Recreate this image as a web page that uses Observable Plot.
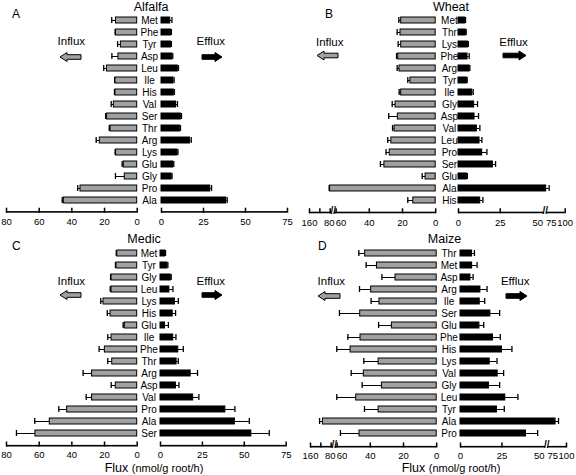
<!DOCTYPE html>
<html><head><meta charset="utf-8">
<script src="https://cdn.jsdelivr.net/npm/d3@7"></script>
<script src="https://cdn.jsdelivr.net/npm/@observablehq/plot@0.6"></script>
<style>
body{margin:0;background:#fff;}
#chart{position:relative;width:576px;height:475px;overflow:hidden;background:#fff;}
</style></head><body><div id="chart"></div>
<script>
// ---------------- data ----------------
const alfalfaAA = ["Met","Phe","Tyr","Asp","Leu","Ile","His","Val","Ser","Thr","Arg","Lys","Glu","Gly","Pro","Ala"];
const alfalfaInflux = [13, 13, 10, 11.5, 18.5, 13.3, 13.3, 14.3, 18.4, 16.3, 22.9, 12.9, 8.2, 7.6, 34.7, 44.9];
const alfalfaInfluxErr = [2.6, 0.5, 2, 4, 2, 0.5, 0.6, 1.6, 0.9, 0.8, 2.2, 0.6, 1, 5.7, 1.7, 1];
const alfalfaEfflux = [5.2, 5.6, 5.6, 6.4, 9.7, 7.1, 7.3, 8.7, 11.5, 10.9, 16.9, 9.5, 7, 6, 29, 38.5];
const alfalfaEffluxErr = [1, 0.3, 0.3, 0.3, 0.4, 0.4, 0.4, 0.8, 0.4, 0.4, 0.8, 0.3, 0.3, 0.3, 0.8, 0.6];

const wheatAA = ["Met","Thr","Lys","Phe","Arg","Tyr","Ile","Gly","Asp","Val","Leu","Pro","Ser","Glu","Ala","His"];
const wheatInflux = [20.8, 21.2, 20.8, 22.6, 21.8, 15.2, 20.8, 24.2, 22.8, 24.8, 26.7, 27.7, 30.9, 6.1, 80.5, 13.5];
const wheatInfluxErr = [1.4, 2, 1.8, 1, 1.4, 1.6, 1.2, 2, 5.5, 1.2, 2.2, 2.2, 2.4, 2, 3.5, 3.3];
const wheatEfflux = [4, 4.4, 5.6, 5.4, 6.6, 5, 8.2, 9.4, 9.6, 11, 12.6, 14.2, 20.6, 5, 59, 13];
const wheatEffluxErr = [0.2, 0.2, 0.3, 1, 0.2, 0.2, 0.6, 2, 2.4, 1.8, 1.4, 2.8, 1.6, 0.3, 6.5, 1.6];

const medicAA = ["Met","Tyr","Gly","Leu","Lys","His","Glu","Ile","Phe","Thr","Arg","Asp","Val","Pro","Ala","Ser"];
const medicInflux = [12.2, 12.7, 15.7, 15.7, 20.6, 16.3, 7.6, 15.7, 19.8, 15.3, 27.6, 13.1, 27.6, 42.9, 53.5, 62.3];
const medicInfluxErr = [0.6, 0.6, 0.6, 0.8, 1.7, 2, 1, 2.3, 3.5, 2.7, 5.5, 2.8, 3.6, 5.1, 9.2, 11.6];
const medicEfflux = [2.7, 4.1, 6.1, 5.3, 8.6, 7.3, 2.7, 7.6, 10.6, 9.6, 18, 9.2, 19.5, 38.7, 44.4, 54.2];
const medicEffluxErr = [0.3, 0.3, 0.3, 2.1, 2, 1.7, 2, 1.6, 3, 1, 4.1, 1.8, 3.4, 5.7, 8.6, 10.7];

const maizeAA = ["Thr","Met","Asp","Arg","Ile","Ser","Glu","Phe","His","Lys","Val","Gly","Leu","Tyr","Ala","Pro"];
const maizeInflux = [43.1, 36, 24.8, 39.5, 34.5, 46.1, 27, 45.9, 51.9, 35, 43.9, 33, 48.5, 35, 112, 46.5];
const maizeInfluxErr = [3.8, 6.5, 8.2, 7, 5, 12.5, 8, 7.6, 9.2, 8.9, 7.6, 11.9, 12.6, 8.5, 13, 11.5];
const maizeEfflux = [7, 7, 6, 12, 11.6, 18, 11.4, 19.6, 25, 17.6, 22.4, 17.2, 27, 22, 76.3, 39.5];
const maizeEffluxErr = [1.4, 3, 1.6, 4, 3, 5.6, 2.6, 4.4, 6, 4.4, 3.6, 6.4, 7.6, 4.4, 6.4, 7];

// tick values and labels
const plainInfluxTicks = [0, 20, 40, 60, 80];
const plainInfluxLabels = ["0", "20", "40", "60", "80"];
const plainEffluxTicks = [0, 25, 50, 75];
const plainEffluxLabels = ["0", "25", "50", "75"];
const brokenInfluxTicks = [0, 20, 40, 60, 80, 120, 160];
// label anchors on the broken axis are nudged apart (as in the original) so they do not collide
const brokenInfluxLabelTicks = [0, 20, 40, 57, 84, 160];
const brokenInfluxLabels = ["0", "20", "40", "60", "80", "160"];
const brokenEffluxTicks = [0, 25, 100];
const brokenEffluxLabelTicks = [0, 25, 47.5, 70, 100];
const brokenEffluxLabels = ["0", "25", "50", "75", "100"];

const panelLetters = ["A", "B", "C", "D"];
const panelTitles = ["Alfalfa", "Wheat", "Medic", "Maize"];
const influxLabel = "Influx", effluxLabel = "Efflux";
const axisTitleMain = "Flux", axisTitleUnit = "(nmol/g root/h)";

// ---------------- scale helpers (broken axes) ----------------
const lin = v => v;
const influxBreak = v => v <= 60 ? v : v <= 80 ? 60 + (v - 60) * 0.1775 : 63.55 + (v - 80) * 0.156;
const effluxBreak = v => v <= 50 ? v : 50 + (v - 50) * 0.278;

const FONT = '"Liberation Sans", Arial, Helvetica, sans-serif';
const GRAY = "#a0a0a0";
const chart = document.getElementById("chart");

function halfPlot(o) {
  const rows = o.aa.map((a, i) => ({aa: a, v: o.vals[i], e: o.errs[i]}));
  const n = rows.length;
  const bandTop = o.rowFirst - o.step / 2;
  const bandBottom = o.rowFirst + (n - 1) * o.step + o.step / 2;
  const lo = Math.min(o.zero, o.end), hi = Math.max(o.zero, o.end);
  const svgLeft = o.side === "left" ? lo - 10 : lo - 2;
  const svgRight = o.side === "left" ? o.labelX + 14 : hi + 12;
  const width = svgRight - svgLeft;
  const frameH = o.axisY - bandTop;
  const m = o.map;
  const dmax = m(o.max);
  const ppu = (hi - lo) / dmax;
  const segs = o.breakAt == null ? [{a: 0, b: dmax}]
    : [{a: 0, b: m(o.breakAt) - 1.2 / ppu}, {a: m(o.breakAt) + 1.2 / ppu, b: dmax}];
  const labelPos = o.labelTicks.map(m);
  const labelMap = new Map(labelPos.map((p, i) => [p, o.labels[i]]));
  const marks = [
    Plot.ruleY(rows, {y: "aa", x1: d => m(d.v), x2: d => m(d.v + d.e), stroke: "black", strokeWidth: 1}),
    Plot.tickX(rows, {y: "aa", x: d => m(d.v + d.e), stroke: "black", strokeWidth: 1.3}),
    Plot.barX(rows, {y: "aa", x1: 0, x2: d => m(d.v), fill: o.fill, stroke: "black", strokeWidth: 1}),
    Plot.barX(segs, {x1: "a", x2: "b", fill: "black", insetTop: frameH - 1.6}),
    Plot.ruleX(o.tickMarks.map(m), {x: d => d, stroke: "black", strokeWidth: 1.5, insetTop: frameH - 5}),
    Plot.axisX({ticks: labelPos, tickFormat: d => labelMap.get(d), tickSize: 0, tickPadding: o.tickPad, fontSize: 9.5, fill: "black"})
  ];
  if (o.breakAt != null) {
    marks.push(Plot.text([m(o.breakAt)], {x: d => d, text: () => "//", frameAnchor: "bottom", fontSize: 10, fontWeight: "bold", fill: "black"}));
  }
  if (o.side === "left") {
    marks.push(Plot.text(rows, {y: "aa", text: "aa", frameAnchor: "right", dx: o.labelX - o.zero, textAnchor: "middle", fontSize: 10, fill: "black"}));
  }
  const plot = Plot.plot({
    width, height: o.height,
    marginTop: bandTop - o.top,
    marginBottom: o.top + o.height - o.axisY,
    marginLeft: lo - svgLeft,
    marginRight: svgRight - hi,
    x: {domain: o.side === "left" ? [dmax, 0] : [0, dmax]},
    y: {type: "band", domain: o.aa, axis: null, paddingInner: 0.5, paddingOuter: 0.25, insetBottom: o.axisY - bandBottom},
    style: {background: "transparent", overflow: "visible", fontFamily: FONT, color: "black"},
    marks
  });
  plot.style.position = "absolute";
  plot.style.left = svgLeft + "px";
  plot.style.top = o.top + "px";
  chart.appendChild(plot);
}

const panels = [
  {aa: alfalfaAA, inV: alfalfaInflux, inE: alfalfaInfluxErr, outV: alfalfaEfflux, outE: alfalfaEffluxErr,
   top: 0, height: 232, rowFirst: 18.3, step: 12.18, axisY: 212.7, labelX: 149, tickPad: 5,
   L: {zero: 136.7, end: 6, max: 80, map: lin, tickMarks: plainInfluxTicks, labelTicks: plainInfluxTicks, labels: plainInfluxLabels},
   R: {zero: 161.3, end: 287.3, max: 75, map: lin, tickMarks: plainEffluxTicks, labelTicks: plainEffluxTicks, labels: plainEffluxLabels}},
  {aa: wheatAA, inV: wheatInflux, inE: wheatInfluxErr, outV: wheatEfflux, outE: wheatEffluxErr,
   top: 0, height: 232, rowFirst: 18.3, step: 12.16, axisY: 213.3, labelX: 449, tickPad: 5,
   L: {zero: 435.3, end: 309.1, max: 160, map: influxBreak, breakAt: 70, tickMarks: brokenInfluxTicks, labelTicks: brokenInfluxLabelTicks, labels: brokenInfluxLabels},
   R: {zero: 458.3, end: 565, max: 100, map: effluxBreak, breakAt: 57, tickMarks: brokenEffluxTicks, labelTicks: brokenEffluxLabelTicks, labels: brokenEffluxLabels}},
  {aa: medicAA, inV: medicInflux, inE: medicInfluxErr, outV: medicEfflux, outE: medicEffluxErr,
   top: 230, height: 235, rowFirst: 251.3, step: 12.18, axisY: 446.5, labelX: 148.5, tickPad: 4.5,
   L: {zero: 136.7, end: 6, max: 80, map: lin, tickMarks: plainInfluxTicks, labelTicks: plainInfluxTicks, labels: plainInfluxLabels},
   R: {zero: 160.3, end: 286, max: 75, map: lin, tickMarks: plainEffluxTicks, labelTicks: plainEffluxTicks, labels: plainEffluxLabels}},
  {aa: maizeAA, inV: maizeInflux, inE: maizeInfluxErr, outV: maizeEfflux, outE: maizeEffluxErr,
   top: 230, height: 235, rowFirst: 251.7, step: 12.16, axisY: 447.5, labelX: 448, tickPad: 4.5,
   L: {zero: 435.7, end: 309.5, max: 160, map: influxBreak, breakAt: 70, tickMarks: brokenInfluxTicks, labelTicks: brokenInfluxLabelTicks, labels: brokenInfluxLabels},
   R: {zero: 460, end: 566, max: 100, map: effluxBreak, breakAt: 57, tickMarks: brokenEffluxTicks, labelTicks: brokenEffluxLabelTicks, labels: brokenEffluxLabels}}
];

for (const p of panels) {
  const common = {aa: p.aa, top: p.top, height: p.height, rowFirst: p.rowFirst, step: p.step, axisY: p.axisY, labelX: p.labelX, tickPad: p.tickPad};
  halfPlot({...common, ...p.L, side: "left", vals: p.inV, errs: p.inE, fill: GRAY});
  halfPlot({...common, ...p.R, side: "right", vals: p.outV, errs: p.outE, fill: "black"});
}

// ---------------- annotations overlay ----------------
const ov = d3.select(chart).append("svg")
  .attr("width", 576).attr("height", 475)
  .style("position", "absolute").style("left", 0).style("top", 0)
  .style("font-family", FONT).style("pointer-events", "none");

const deco = [
  {letter: [12, 18], title: [151, 11], inf: [71.3, 45], eff: [210.8, 45], arrIn: [60, 81, 57], arrOut: [202, 222, 57]},
  {letter: [325, 18], title: [451, 11], inf: [329.7, 45.5], eff: [513.5, 45.5], arrIn: [317, 338, 55.5], arrOut: [503, 526, 55.5]},
  {letter: [12, 250], title: [144, 243], inf: [71.3, 285], eff: [210.8, 285], arrIn: [60, 81, 295], arrOut: [202, 222, 295], axis: [154, 471.5]},
  {letter: [318, 250], title: [444.5, 243], inf: [331.3, 284.5], eff: [515.2, 284.5], arrIn: [318, 340, 296], arrOut: [506, 527, 296], axis: [451, 471.5]}
];

function arrowPath(x0, x1, cy, dir) {
  const hl = 7, hh = 4.5, bh = 2.3;
  if (dir < 0) {
    return `M${x0},${cy}L${x0 + hl},${cy - hh}L${x0 + hl},${cy - bh}L${x1},${cy - bh}L${x1},${cy + bh}L${x0 + hl},${cy + bh}L${x0 + hl},${cy + hh}Z`;
  }
  return `M${x1},${cy}L${x1 - hl},${cy - hh}L${x1 - hl},${cy - bh}L${x0},${cy - bh}L${x0},${cy + bh}L${x1 - hl},${cy + bh}L${x1 - hl},${cy + hh}Z`;
}

deco.forEach((d, i) => {
  ov.append("text").attr("x", d.letter[0]).attr("y", d.letter[1]).attr("font-size", 12).text(panelLetters[i]);
  ov.append("text").attr("x", d.title[0]).attr("y", d.title[1]).attr("font-size", 12.5).attr("text-anchor", "middle").text(panelTitles[i]);
  ov.append("text").attr("x", d.inf[0]).attr("y", d.inf[1]).attr("font-size", 11.5).attr("text-anchor", "middle").text(influxLabel);
  ov.append("text").attr("x", d.eff[0]).attr("y", d.eff[1]).attr("font-size", 11.5).attr("text-anchor", "middle").text(effluxLabel);
  ov.append("path").attr("d", arrowPath(d.arrIn[0], d.arrIn[1], d.arrIn[2], -1)).attr("fill", GRAY).attr("stroke", "black").attr("stroke-width", 1);
  ov.append("path").attr("d", arrowPath(d.arrOut[0], d.arrOut[1], d.arrOut[2], 1)).attr("fill", "black").attr("stroke", "black").attr("stroke-width", 1);
  if (d.axis) {
    const t = ov.append("text").attr("x", d.axis[0]).attr("y", d.axis[1]).attr("text-anchor", "middle");
    t.append("tspan").attr("font-size", 12.5).text(axisTitleMain + " ");
    t.append("tspan").attr("font-size", 11).text(axisTitleUnit);
  }
});
</script>
</body></html>
